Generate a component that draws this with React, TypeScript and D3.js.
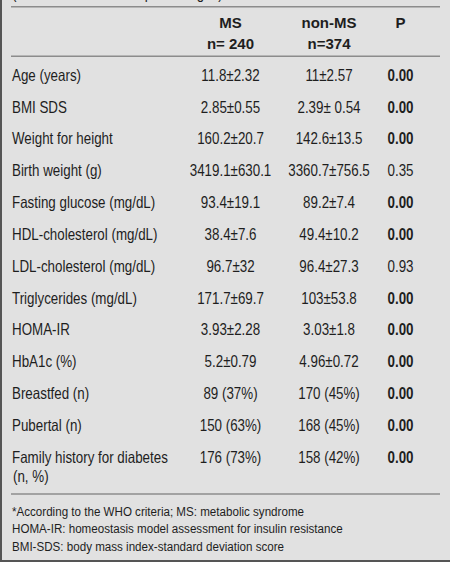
import React from "react";
import * as d3 from "d3";

const title = "(mean values ± SD or percentages)";
const groupNames = ["MS", "non-MS"];
const groupNs = ["n= 240", "n=374"];
const pHeader = "P";

const variables = [
  "Age (years)",
  "BMI SDS",
  "Weight for height",
  "Birth weight (g)",
  "Fasting glucose (mg/dL)",
  "HDL-cholesterol (mg/dL)",
  "LDL-cholesterol (mg/dL)",
  "Triglycerides (mg/dL)",
  "HOMA-IR",
  "HbA1c (%)",
  "Breastfed (n)",
  "Pubertal (n)",
  "Family history for diabetes|(n, %)",
];
const msValues = [
  "11.8±2.32",
  "2.85±0.55",
  "160.2±20.7",
  "3419.1±630.1",
  "93.4±19.1",
  "38.4±7.6",
  "96.7±32",
  "171.7±69.7",
  "3.93±2.28",
  "5.2±0.79",
  "89 (37%)",
  "150 (63%)",
  "176 (73%)",
];
const nonMsValues = [
  "11±2.57",
  "2.39± 0.54",
  "142.6±13.5",
  "3360.7±756.5",
  "89.2±7.4",
  "49.4±10.2",
  "96.4±27.3",
  "103±53.8",
  "3.03±1.8",
  "4.96±0.72",
  "170 (45%)",
  "168 (45%)",
  "158 (42%)",
];
const pValues = [0.0, 0.0, 0.0, 0.35, 0.0, 0.0, 0.93, 0.0, 0.0, 0.0, 0.0, 0.0, 0.0];
const footnotes = [
  "*According to the WHO criteria; MS: metabolic syndrome",
  "HOMA-IR: homeostasis model assessment for insulin resistance",
  "BMI-SDS: body mass index-standard deviation score",
];

const W = 450;
const H = 562;
const FONT = "'Liberation Sans', Arial, sans-serif";
const TEXT = "#1e1e1e";

type TProps = {
  x: number;
  y: number;
  sx?: number;
  size: number;
  anchor?: "start" | "middle" | "end";
  bold?: boolean;
  children: React.ReactNode;
};

function T({ x, y, sx = 0.82, size, anchor = "start", bold = false, children }: TProps) {
  return (
    <g transform={`translate(${x},${y}) scale(${sx},1)`}>
      <text
        x={0}
        y={0}
        fontFamily={FONT}
        fontSize={size}
        fontWeight={bold ? "bold" : "normal"}
        textAnchor={anchor}
        fill={TEXT}
      >
        {children}
      </text>
    </g>
  );
}

export default function App() {
  const y = d3
    .scaleLinear()
    .domain([0, variables.length - 1])
    .range([80.8, 462.6]);
  const colX = d3
    .scaleOrdinal<string, number>()
    .domain(["label", "ms", "nonms", "p"])
    .range([12, 230.5, 329, 400.5]);
  const fmt = d3.format(".2f");
  const lineColor = "#8c8c8c";
  const rowSize = 16.3;

  return (
    <svg
      width={W}
      height={H}
      style={{ position: "absolute", left: 0, top: 0, display: "block" }}
    >
      <rect x={0} y={0} width={W} height={H} fill="#e1e1e1" />
      <rect x={0} y={0} width={2} height={H} fill="#555" />
      <rect x={0} y={H - 2} width={W} height={2} fill="#555" />

      <T x={12} y={-1.5} size={16.3}>
        {title}
      </T>

      <line x1={11} x2={440} y1={6.7} y2={6.7} stroke={lineColor} strokeWidth={1.6} />
      <line x1={11} x2={440} y1={56.3} y2={56.3} stroke={lineColor} strokeWidth={1.6} />
      <line x1={11} x2={440} y1={494} y2={494} stroke={lineColor} strokeWidth={1.6} />

      {groupNames.map((g, i) => (
        <g key={g}>
          <T x={colX(i === 0 ? "ms" : "nonms")} y={27.5} sx={1} size={15} bold anchor="middle">
            {g}
          </T>
          <T x={colX(i === 0 ? "ms" : "nonms")} y={49} sx={1} size={15} bold anchor="middle">
            {groupNs[i]}
          </T>
        </g>
      ))}
      <T x={colX("p")} y={27.5} sx={1} size={15} bold anchor="middle">
        {pHeader}
      </T>

      {variables.map((v, i) => {
        const parts = v.split("|");
        return (
          <g key={v}>
            <T x={colX("label")} y={y(i)} size={rowSize}>
              {parts[0]}
            </T>
            {parts[1] && (
              <T x={colX("label") + 1} y={y(i) + 19.5} size={rowSize}>
                {parts[1]}
              </T>
            )}
            <T x={colX("ms")} y={y(i)} size={rowSize} anchor="middle">
              {msValues[i]}
            </T>
            <T x={colX("nonms")} y={y(i)} size={rowSize} anchor="middle">
              {nonMsValues[i]}
            </T>
            <T x={colX("p")} y={y(i)} size={rowSize} anchor="middle" bold={pValues[i] < 0.05}>
              {fmt(pValues[i])}
            </T>
          </g>
        );
      })}

      {footnotes.map((f, i) => (
        <T key={f} x={12} y={515.5 + i * 17.6} size={13.5} sx={0.86}>
          {f}
        </T>
      ))}
    </svg>
  );
}
